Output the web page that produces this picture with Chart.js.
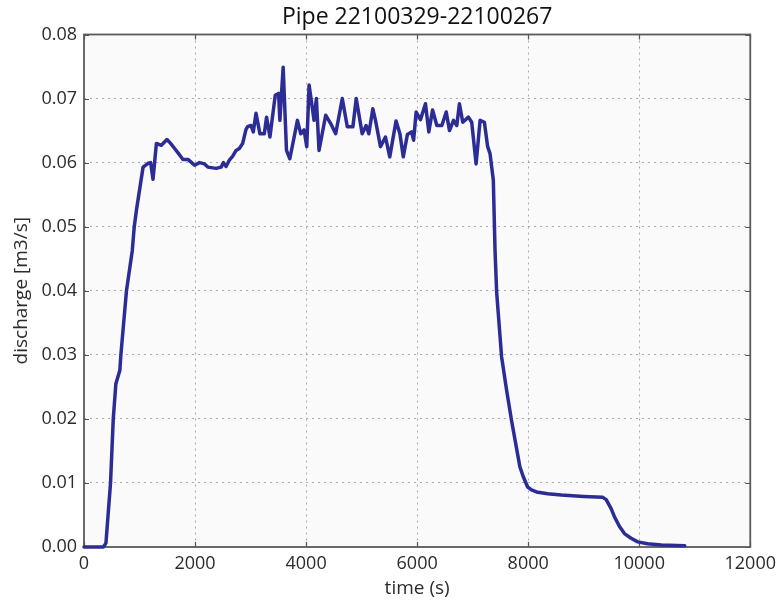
<!DOCTYPE html>
<html>
<head>
<meta charset="utf-8">
<title>Pipe 22100329-22100267</title>
<script src="https://cdn.jsdelivr.net/npm/chart.js@4/dist/chart.umd.min.js"></script>
<style>
  html, body { margin: 0; padding: 0; background: #ffffff; }
  #wrap { width: 782px; height: 601px; }
</style>
</head>
<body>
<div id="wrap"><canvas id="chart" width="782" height="601"></canvas></div>
<script>
// Simulated discharge through pipe 22100329-22100267
const timeSec = [
  0, 350, 395, 478, 527, 574, 646, 664, 765, 870, 905, 945, 1064, 1154, 1200,
  1243, 1304, 1393, 1494, 1560, 1632, 1722, 1782, 1871, 1991, 2081, 2170, 2230,
  2380, 2470, 2511, 2559, 2619, 2679, 2739, 2798, 2858, 2918, 2947, 3008, 3049,
  3098, 3169, 3247, 3288, 3349, 3444, 3504, 3528, 3587, 3647, 3707, 3785, 3844,
  3904, 3964, 4012, 4054, 4102, 4143, 4185, 4233, 4353, 4443, 4533, 4652, 4742,
  4843, 4903, 5010, 5082, 5130, 5202, 5250, 5340, 5430, 5507, 5620, 5690, 5750,
  5825, 5900, 5937, 5982, 6060, 6150, 6210, 6278, 6355, 6445, 6524, 6583, 6655,
  6714, 6762, 6822, 6924, 6983, 7062, 7134, 7211, 7270, 7313, 7372, 7403, 7432,
  7521, 7611, 7701, 7851, 7910, 7988, 8060, 8149, 8350, 8597, 9000, 9345, 9405,
  9494, 9555, 9645, 9734, 9853, 9973, 10150, 10400, 10820
];
const discharge = [
  0.0000, 0.0000, 0.0006, 0.0100, 0.0200, 0.0255, 0.0276, 0.0300, 0.0400, 0.0463, 0.0500, 0.0526, 0.0593, 0.0599, 0.0600,
  0.0574, 0.0630, 0.0627, 0.0636, 0.0630, 0.0622, 0.0612, 0.0605, 0.0605, 0.0596, 0.0600, 0.0598, 0.0593,
  0.0591, 0.0593, 0.0600, 0.0594, 0.0604, 0.0610, 0.0619, 0.0622, 0.0630, 0.0652, 0.0656, 0.0658, 0.0648,
  0.0677, 0.0645, 0.0645, 0.0671, 0.0640, 0.0705, 0.0708, 0.0666, 0.0749, 0.0619, 0.0606, 0.0640, 0.0666,
  0.0645, 0.0651, 0.0625, 0.0721, 0.0692, 0.0666, 0.0700, 0.0619, 0.0674, 0.0661, 0.0645, 0.0700, 0.0656,
  0.0656, 0.0700, 0.0645, 0.0658, 0.0645, 0.0684, 0.0666, 0.0625, 0.0640, 0.0609, 0.0665, 0.0645, 0.0609,
  0.0644, 0.0648, 0.0635, 0.0679, 0.0667, 0.0692, 0.0648, 0.0682, 0.0658, 0.0658, 0.0679, 0.0650, 0.0666,
  0.0658, 0.0692, 0.0663, 0.0671, 0.0663, 0.0598, 0.0666, 0.0663, 0.0625, 0.0614, 0.0573, 0.0463, 0.0398,
  0.0297, 0.0245, 0.0197, 0.0125, 0.0110, 0.0094, 0.0089, 0.0086, 0.0083, 0.0081, 0.0079, 0.00775, 0.0074,
  0.0060, 0.0047, 0.0032, 0.0021, 0.00136, 0.0008, 0.0005, 0.0003, 0.0002
];
const xTickValues = [0, 2000, 4000, 6000, 8000, 10000, 12000];
const yTickValues = [0.00, 0.01, 0.02, 0.03, 0.04, 0.05, 0.06, 0.07, 0.08];

const points = timeSec.map((t, i) => ({ x: t, y: discharge[i] }));

const FONT = "'Open Sans', 'Noto Sans', sans-serif";
const TEXT = '#2b2b2b';

// Grey plot face, dark frame and inward tick marks on all four sides
const framePlugin = {
  id: 'frameTicks',
  beforeDraw(chart) {
    const { ctx, chartArea: a } = chart;
    ctx.save();
    ctx.fillStyle = '#fafafa';
    ctx.fillRect(a.left, a.top, a.right - a.left, a.bottom - a.top);
    ctx.restore();
  },
  beforeDatasetsDraw(chart) {
    const { ctx, chartArea: a, scales } = chart;
    const len = 5;
    ctx.save();
    ctx.strokeStyle = '#555555';
    ctx.lineWidth = 1.2;
    ctx.beginPath();
    xTickValues.forEach(v => {
      const px = Math.round(scales.x.getPixelForValue(v)) + 0.5;
      ctx.moveTo(px, a.bottom); ctx.lineTo(px, a.bottom - len);
      ctx.moveTo(px, a.top); ctx.lineTo(px, a.top + len);
    });
    yTickValues.forEach(v => {
      const py = Math.round(scales.y.getPixelForValue(v)) + 0.5;
      ctx.moveTo(a.left, py); ctx.lineTo(a.left + len, py);
      ctx.moveTo(a.right, py); ctx.lineTo(a.right - len, py);
    });
    ctx.stroke();
    ctx.strokeStyle = '#5a5a5a';
    ctx.lineWidth = 1.8;
    ctx.strokeRect(a.left, a.top, a.right - a.left, a.bottom - a.top);
    ctx.restore();
  }
};

new Chart(document.getElementById('chart'), {
  type: 'line',
  data: {
    datasets: [{
      label: 'discharge',
      data: points,
      borderColor: '#2c2c96',
      borderWidth: 3.5,
      borderJoinStyle: 'round',
      borderCapStyle: 'round',
      pointRadius: 0,
      tension: 0,
      fill: false,
      clip: false
    }]
  },
  options: {
    responsive: false,
    animation: false,
    events: [],
    layout: { padding: { left: 0, right: 31, top: 0, bottom: 0 } },
    plugins: {
      legend: { display: false },
      tooltip: { enabled: false },
      title: {
        display: true,
        text: 'Pipe 22100329-22100267',
        fullSize: false,
        color: '#111111',
        font: { family: FONT, size: 23, weight: 'normal' },
        padding: { top: 3.5, bottom: 3.4 }
      }
    },
    scales: {
      x: {
        type: 'linear',
        min: 0,
        max: 12000,
        afterFit(scale) { scale.height = 54; },
        afterBuildTicks(scale) { scale.ticks = xTickValues.map(v => ({ value: v })); },
        ticks: {
          color: TEXT,
          padding: 6,
          maxRotation: 0,
          font: { family: FONT, size: 18 },
          callback: v => String(v)
        },
        grid: {
          color: ctx => (ctx.tick && (ctx.tick.value === 0 || ctx.tick.value === 12000)) ? 'rgba(0,0,0,0)' : '#a8a8a8',
          lineWidth: 1,
          drawTicks: false
        },
        border: { display: false, dash: [2, 4] },
        title: {
          display: true,
          text: 'time (s)',
          color: TEXT,
          font: { family: FONT, size: 19 },
          padding: { top: 0, bottom: 1 }
        }
      },
      y: {
        type: 'linear',
        min: 0,
        max: 0.08,
        afterFit(scale) { scale.width = 84; },
        afterBuildTicks(scale) { scale.ticks = yTickValues.map(v => ({ value: v })); },
        ticks: {
          color: TEXT,
          padding: 7,
          font: { family: FONT, size: 18 },
          callback: v => Number(v).toFixed(2)
        },
        grid: {
          color: ctx => (ctx.tick && (ctx.tick.value === 0 || Math.abs(ctx.tick.value - 0.08) < 1e-9)) ? 'rgba(0,0,0,0)' : '#a8a8a8',
          lineWidth: 1,
          drawTicks: false
        },
        border: { display: false, dash: [2, 4] },
        title: {
          display: true,
          text: 'discharge [m3/s]',
          color: TEXT,
          font: { family: FONT, size: 19 },
          padding: { top: 10, bottom: 0 }
        }
      }
    }
  },
  plugins: [framePlugin]
});
</script>
</body>
</html>
